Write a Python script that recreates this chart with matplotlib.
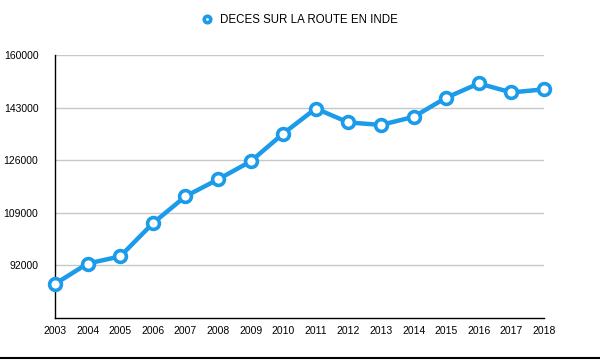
import matplotlib
matplotlib.use("Agg")
import matplotlib.pyplot as plt
from matplotlib.lines import Line2D

# ── Data ──────────────────────────────────────────────────
years = list(range(2003, 2019))
deaths = [86000, 92600, 94900, 105600, 114300, 119800, 125600, 134600,
          142700, 138200, 137400, 140000, 146200, 150800, 147900, 148900]
yticks = [92000, 109000, 126000, 143000, 160000]
series_label = "DECES SUR LA ROUTE EN INDE"

blue = "#1b9be9"
plt.rcParams['font.family'] = ['Liberation Sans', 'DejaVu Sans']

# ── Plot ──────────────────────────────────────────────────
fig = plt.figure(figsize=(6, 3.62), dpi=100)
ax = fig.add_axes([55 / 600, 1 - 318 / 362, (544 - 55) / 600, (318 - 55) / 362])

ax.plot(years, deaths, color=blue, linewidth=3.2, marker='o', markersize=8.5,
        markerfacecolor='white', markeredgecolor=blue, markeredgewidth=2.6,
        clip_on=False, zorder=3, label=series_label)

ax.set_xlim(2003, 2018)
ax.set_ylim(75000, 160000)
ax.set_xticks(years)
ax.set_xticklabels([str(y) for y in years], fontsize=7.5)
ax.set_yticks(yticks)
ax.set_yticklabels([str(v) for v in yticks], fontsize=7.5)
ax.tick_params(axis='y', length=0, pad=12)
ax.tick_params(axis='x', length=0, pad=6)

ax.grid(axis='y', color='#c8c8c8', linewidth=1)
ax.set_axisbelow(True)
for s in ['top', 'right']:
    ax.spines[s].set_visible(False)
ax.spines['left'].set_linewidth(1)
ax.spines['bottom'].set_linewidth(1)

# ── Legend ────────────────────────────────────────────────
leg = fig.legend(loc='center', bbox_to_anchor=(0.5, 1 - 20 / 362), frameon=False,
                 fontsize=8.3, handlelength=0.8, handletextpad=0.7,
                 markerscale=0.55)
for h in leg.legend_handles:
    h.set_linestyle('none')

# bottom border line
fig.add_artist(Line2D([0, 1], [1 - 358 / 362] * 2, color='black', linewidth=1.5,
                      transform=fig.transFigure))

plt.savefig('out.png', dpi=100)
